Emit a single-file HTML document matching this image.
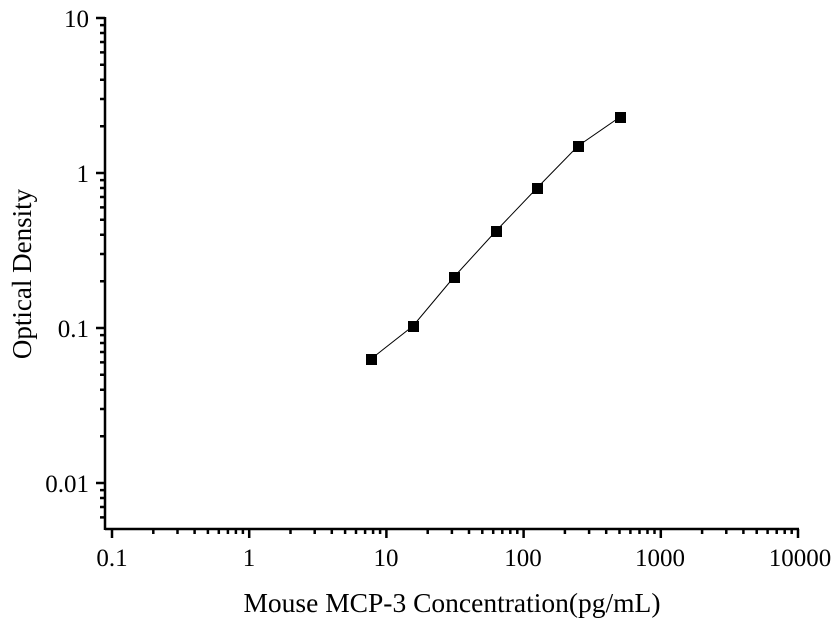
<!DOCTYPE html>
<html><head><style>body{margin:0;background:#fff}svg{display:block}</style></head><body>
<svg width="839" height="632" xmlns="http://www.w3.org/2000/svg" font-family="Liberation Serif, serif">
<g stroke="#000" stroke-width="2.5" fill="none">
<path d="M105,529H799M105,17V530"/>
<path d="M112,529v9M249.2,529v9M386.4,529v9M523.6,529v9M660.8,529v9M798,529v9"/>
<path d="M153.3,529v5M177.5,529v5M194.6,529v5M207.9,529v5M218.8,529v5M227.9,529v5M235.9,529v5M242.9,529v5
M290.5,529v5M314.7,529v5M331.8,529v5M345.1,529v5M356,529v5M365.1,529v5M373.1,529v5M380.1,529v5
M427.7,529v5M451.9,529v5M469,529v5M482.3,529v5M493.2,529v5M502.3,529v5M510.3,529v5M517.3,529v5
M564.9,529v5M589.1,529v5M606.2,529v5M619.5,529v5M630.4,529v5M639.5,529v5M647.5,529v5M654.5,529v5
M702.1,529v5M726.3,529v5M743.4,529v5M756.7,529v5M767.6,529v5M776.7,529v5M784.7,529v5M791.7,529v5"/>
<path d="M96,18h9M96,173h9M96,328h9M96,483h9"/>
<path d="M100,25.1h5M100,33h5M100,42h5M100,52.4h5M100,64.7h5M100,79.7h5M100,99h5M100,126.3h5
M100,180.1h5M100,188h5M100,197h5M100,207.4h5M100,219.7h5M100,234.7h5M100,254h5M100,281.3h5
M100,335.1h5M100,343h5M100,352h5M100,362.4h5M100,374.7h5M100,389.7h5M100,409h5M100,436.3h5
M100,490.1h5M100,498h5M100,507h5M100,517.4h5"/>
</g>
<g font-size="25" fill="#000" text-anchor="middle">
<text x="112" y="566">0.1</text><text x="249" y="566">1</text><text x="386" y="566">10</text>
<text x="523" y="566">100</text><text x="660" y="566">1000</text><text x="800" y="566">10000</text>
</g>
<g font-size="25" fill="#000" text-anchor="end">
<text x="89" y="27">10</text><text x="89" y="182">1</text><text x="89" y="337">0.1</text><text x="89" y="492">0.01</text>
</g>
<text x="452" y="612" font-size="27.5" text-anchor="middle">Mouse MCP-3 Concentration(pg/mL)</text>
<text transform="translate(31,274) rotate(-90)" font-size="27" text-anchor="middle">Optical Density</text>
<polyline fill="none" stroke="#000" stroke-width="1" points="371,359 413,326 454,277 496,231 537,188 578,146 620,117"/>
<g fill="#000">
<rect x="366" y="354" width="11" height="11"/><rect x="408" y="321" width="11" height="11"/>
<rect x="449" y="272" width="11" height="11"/><rect x="491" y="226" width="11" height="11"/>
<rect x="532" y="183" width="11" height="11"/><rect x="573" y="141" width="11" height="11"/>
<rect x="615" y="112" width="11" height="11"/>
</g>
</svg>
</body></html>
